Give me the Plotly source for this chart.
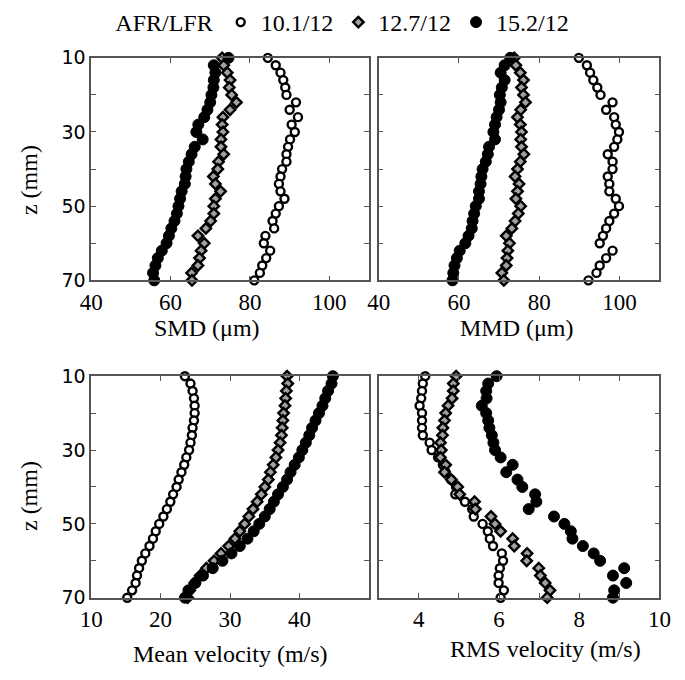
import plotly.graph_objects as go

# ---------------- data ----------------
z_mm = [10, 12, 14, 16, 18, 20, 22, 24, 26, 28, 30, 32, 34, 36, 38, 40,
        42, 44, 46, 48, 50, 52, 54, 56, 58, 60, 62, 64, 66, 68, 70]

series_names = ["10.1/12", "12.7/12", "15.2/12"]

smd_101 = [84.5, 86.5, 87.7, 88.4, 88.9, 89.2, 91.6, 90.0, 92.1, 90.5, 91.3, 90.1, 89.6, 89.2, 89.2, 88.1,
           87.7, 87.3, 87.7, 88.7, 87.3, 86.5, 85.7, 86.1, 83.9, 83.5, 85.1, 84.1, 83.1, 82.5, 81.1]
smd_127 = [73.0, 73.4, 74.3, 75.0, 74.8, 75.4, 76.6, 75.0, 73.2, 73.0, 73.2, 72.7, 72.7, 73.4, 72.1, 71.9,
           70.8, 71.3, 72.6, 71.3, 70.9, 70.9, 70.1, 68.9, 66.9, 68.5, 67.7, 67.3, 66.9, 65.3, 65.4]
smd_152 = [74.6, 70.9, 71.3, 70.9, 70.8, 70.3, 70.0, 69.3, 68.5, 67.0, 66.5, 68.1, 66.1, 65.3, 64.6, 64.0,
           63.8, 63.6, 62.8, 62.4, 62.0, 61.6, 61.0, 60.2, 59.6, 59.0, 57.8, 56.8, 56.2, 55.6, 55.9]

mmd_101 = [89.9, 91.9, 92.7, 93.5, 94.5, 95.3, 98.3, 96.7, 98.7, 99.1, 99.9, 99.5, 98.7, 97.1, 98.3, 98.3,
           97.1, 97.5, 97.5, 99.1, 99.9, 98.7, 97.5, 96.7, 95.9, 95.1, 98.3, 96.7, 95.1, 94.3, 92.3]
mmd_127 = [73.8, 74.2, 75.3, 76.1, 75.6, 76.1, 76.6, 75.4, 74.6, 75.3, 75.6, 75.4, 75.6, 76.2, 75.3, 74.6,
           74.0, 75.0, 74.6, 74.2, 75.4, 74.8, 74.0, 73.2, 71.8, 72.6, 72.2, 72.0, 71.8, 70.7, 71.2]
mmd_152 = [72.8, 71.4, 70.4, 71.4, 70.7, 70.2, 70.4, 70.0, 69.4, 69.0, 68.6, 69.0, 67.5, 67.2, 66.7, 65.9,
           65.6, 65.4, 65.0, 65.0, 64.2, 63.8, 63.4, 63.2, 62.4, 61.6, 60.2, 59.5, 58.9, 58.6, 58.4]

mean_101 = [23.5, 24.3, 24.6, 24.8, 24.9, 24.9, 24.8, 24.6, 24.5, 24.3, 24.1, 23.7, 23.4, 23.0, 22.6, 22.3,
            21.8, 21.4, 20.9, 20.4, 19.8, 19.3, 18.9, 18.4, 17.8, 17.3, 16.9, 16.6, 16.4, 15.9, 15.2]
mean_127 = [38.2, 38.3, 38.1, 38.0, 37.9, 37.7, 37.6, 37.5, 37.4, 37.2, 36.9, 36.6, 36.2, 35.8, 35.5, 35.0,
            34.5, 33.9, 33.3, 32.7, 32.1, 31.4, 30.7, 29.8, 28.7, 27.7, 26.6, 25.7, 24.9, 24.2, 23.9]
mean_152 = [44.8, 44.6, 44.1, 43.7, 43.3, 42.8, 42.3, 41.8, 41.4, 40.9, 40.4, 39.9, 39.3, 38.7, 38.2, 37.6,
            36.9, 36.3, 35.7, 35.0, 34.2, 33.4, 32.5, 31.4, 30.2, 28.9, 27.5, 26.1, 25.0, 24.0, 23.5]

rms_101 = [4.16, 4.10, 4.08, 4.06, 4.02, 4.08, 4.08, 4.08, 4.10, 4.27, 4.32, 4.48, 4.60, 4.67, 4.80, 4.93,
           4.91, 5.15, 5.33, 5.37, 5.59, 5.72, 5.77, 5.85, 6.07, 6.10, 6.02, 5.99, 5.99, 6.12, 6.04]
rms_127 = [4.93, 4.86, 4.86, 4.83, 4.73, 4.67, 4.64, 4.60, 4.59, 4.54, 4.56, 4.54, 4.67, 4.64, 4.81, 4.97,
           5.02, 5.39, 5.41, 5.80, 5.90, 6.04, 6.34, 6.38, 6.70, 6.69, 6.99, 7.03, 7.15, 7.27, 7.20]
rms_152 = [5.94, 5.73, 5.68, 5.69, 5.57, 5.68, 5.73, 5.76, 5.82, 5.86, 5.90, 6.04, 6.34, 6.18, 6.46, 6.58,
           6.90, 6.93, 6.74, 7.37, 7.63, 7.79, 7.83, 8.09, 8.36, 8.52, 9.12, 8.84, 9.17, 8.87, 8.84]

y_tickvals = [10, 20, 30, 40, 50, 60, 70]
y_ticktext = ["10", "", "30", "", "50", "", "70"]
top_tickvals = [40, 60, 80, 100]
mean_tickvals = [10, 20, 30, 40]
rms_tickvals = [3, 4, 5, 6, 7, 8, 9, 10]
rms_ticktext = ["", "4", "", "6", "", "8", "", "10"]

# ---------------- styles ----------------
styles = [
    dict(symbol="circle", size=8, color="white", line=dict(color="black", width=2.4)),
    dict(symbol="diamond", size=8, color="#a0a0a0", line=dict(color="black", width=2.4)),
    dict(symbol="circle", size=11, color="black", line=dict(color="black", width=1)),
]

panels = [
    ("x", "y", [smd_101, smd_127, smd_152]),
    ("x2", "y2", [mmd_101, mmd_127, mmd_152]),
    ("x3", "y3", [mean_101, mean_127, mean_152]),
    ("x4", "y4", [rms_101, rms_127, rms_152]),
]

fig = go.Figure()
for pi, (xa, ya, data) in enumerate(panels):
    for si, vals in enumerate(data):
        fig.add_trace(go.Scatter(
            x=vals, y=z_mm, mode="markers", xaxis=xa, yaxis=ya,
            name=series_names[si], marker=styles[si],
            showlegend=(pi == 0), cliponaxis=False,
        ))

W, H = 685, 680
def dx(a, b):
    return [a / W, b / W]
def dy(top, bottom):
    return [1 - bottom / H, 1 - top / H]

axis_common = dict(showline=True, linecolor="#555555", linewidth=1.5, mirror="ticks",
                   ticks="inside", ticklen=5, tickcolor="#555555", tickwidth=1,
                   showgrid=False, zeroline=False)
xfont = dict(family="Liberation Serif", size=23, color="black")
yfont = dict(family="DejaVu Sans", size=19, color="black")

fig.update_layout(
    width=W, height=H,
    margin=dict(l=0, r=0, t=0, b=0),
    paper_bgcolor="white", plot_bgcolor="white",
    xaxis=dict(domain=dx(82, 370), range=[40, 110], tickvals=top_tickvals, anchor="y",
               tickfont=xfont, **axis_common),
    yaxis=dict(domain=dy(45.5, 276.5), range=[70, 10], tickvals=y_tickvals, ticktext=y_ticktext,
               anchor="x", tickfont=yfont, **axis_common),
    xaxis2=dict(domain=dx(380, 671), range=[40, 110], tickvals=top_tickvals, anchor="y2",
                tickfont=xfont, **axis_common),
    yaxis2=dict(domain=dy(45.5, 276.5), range=[70, 10], tickvals=y_tickvals, showticklabels=False,
                anchor="x2", **axis_common),
    xaxis3=dict(domain=dx(82, 370), range=[10, 50], tickvals=mean_tickvals, anchor="y3",
                tickfont=xfont, **axis_common),
    yaxis3=dict(domain=dy(376, 606), range=[70, 10], tickvals=y_tickvals, ticktext=y_ticktext,
                anchor="x3", tickfont=yfont, **axis_common),
    xaxis4=dict(domain=dx(380, 671), range=[3, 10], tickvals=rms_tickvals, ticktext=rms_ticktext,
                anchor="y4", tickfont=xfont, **axis_common),
    yaxis4=dict(domain=dy(376, 606), range=[70, 10], tickvals=y_tickvals, showticklabels=False,
                anchor="x4", **axis_common),
    legend=dict(orientation="h", x=105 / W, y=1.022, xanchor="left", yanchor="top",
                font=dict(family="Liberation Serif", size=24, color="black"),
                title=dict(text="AFR/LFR", side="left",
                           font=dict(family="Liberation Serif", size=24, color="black")),
                itemwidth=30, bgcolor="rgba(0,0,0,0)", borderwidth=0),
)

title_font = dict(family="Liberation Serif", size=24, color="black")
annots = [
    ("SMD (μm)", 202, 326, 0),
    ("MMD (μm)", 523, 326, 0),
    ("Mean velocity (m/s)", 226, 664, 0),
    ("RMS velocity (m/s)", 553, 659, 0),
    ("z (mm)", 17, 172, -90),
    ("z (mm)", 17, 500, -90),
]
for text, px, py, ang in annots:
    fig.add_annotation(text=text, x=px / W, y=1 - py / H, xref="paper", yref="paper",
                       showarrow=False, textangle=ang, font=title_font,
                       xanchor="center", yanchor="middle")

fig.write_html("out.html")
